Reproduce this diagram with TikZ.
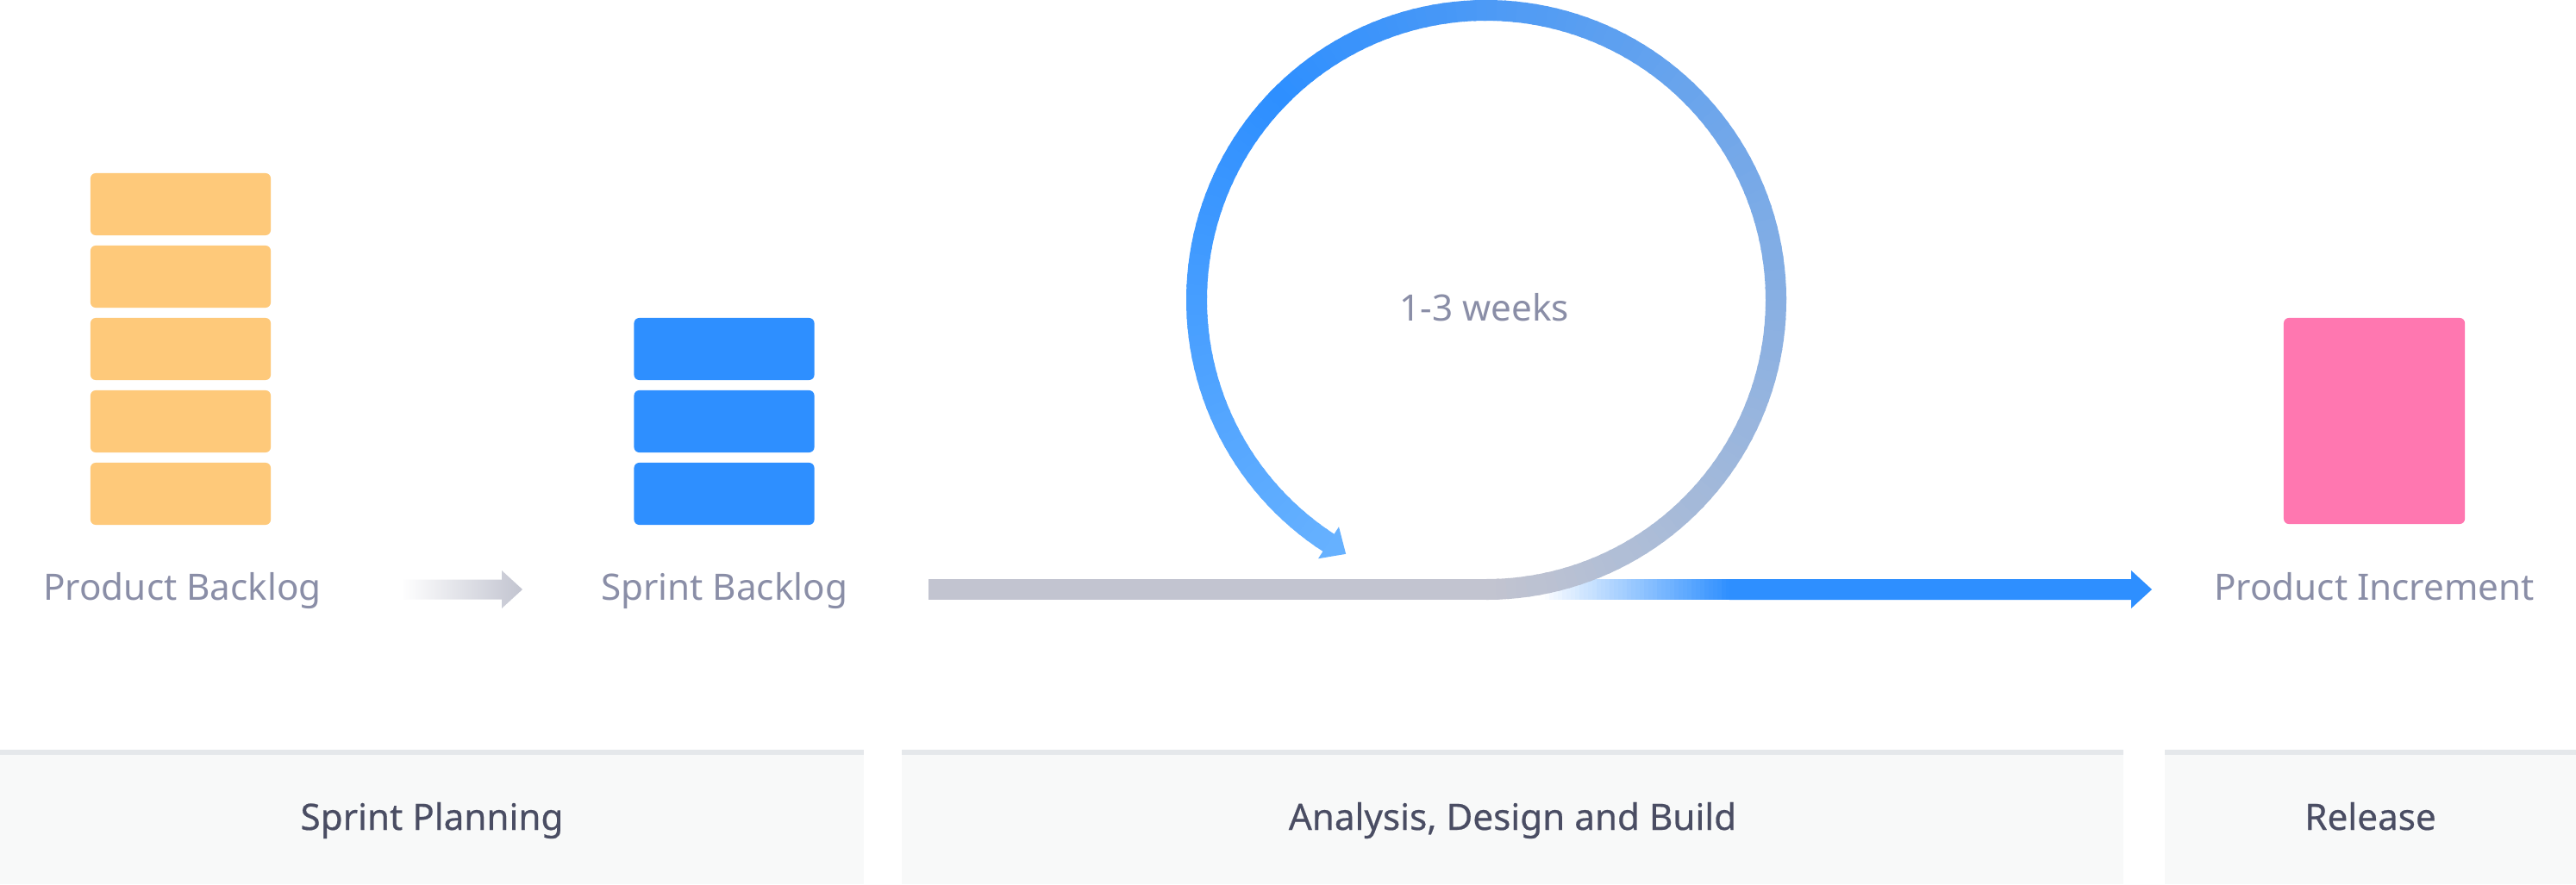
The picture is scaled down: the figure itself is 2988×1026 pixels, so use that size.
\documentclass[tikz,border=0pt]{standalone}
\usepackage{fontspec}
\setmainfont{Noto Sans}
\newfontfamily\phasefont[FakeBold=0.5]{Noto Sans}
\usetikzlibrary{calc}

\definecolor{backlogorange}{HTML}{FEC97A}
\definecolor{sprintblue}{HTML}{2E8FFF}
\definecolor{incpink}{HTML}{FF77B0}
\definecolor{flowgrey}{HTML}{C2C4D0}
\definecolor{loopblue}{HTML}{2E8FFF}
\definecolor{looplight}{HTML}{66B1FF}
\definecolor{labelgrey}{HTML}{8A8EA7}
\definecolor{phasetext}{HTML}{4A4D63}
\definecolor{panelfill}{HTML}{F8F9F9}
\definecolor{panelrule}{HTML}{E5E8EB}

\begin{document}
\begin{tikzpicture}[x=0.01cm, y=0.01cm,
  card/.style={rounded corners=0.06cm, inner sep=0pt, minimum width=2.09cm, minimum height=0.72cm},
  lbl/.style={anchor=base, inner sep=0pt, text=labelgrey, font=\fontsize{12}{14}\selectfont},
  phase/.style={anchor=base, inner sep=0pt, text=phasetext, font=\phasefont\fontsize{12}{14}\selectfont},
  flow/.style={line width=0.24cm},
]
\useasboundingbox (0,0) rectangle (2988,1026);
\fill[white] (0,0) rectangle (2988,1026);

% product backlog stack
\foreach \i/\y in {1/789,2/705,3/621,4/537,5/453}
  \node[card, fill=backlogorange] (pb\i) at (209.5,\y) {};

% sprint backlog stack
\foreach \i/\y in {1/621,2/537,3/453}
  \node[card, fill=sprintblue] (sb\i) at (840,\y) {};

% product increment
\node[card, fill=incpink, minimum width=2.10cm, minimum height=2.39cm] (inc) at (2754,537.5) {};

% labels
\node[lbl] (pbl) at (211.5,330) {Product Backlog};
\node[lbl] (sbl) at (840,330) {Sprint Backlog};
\node[lbl] (pil) at (2754,330) {Product Increment};
\node[lbl] (weeks) at (1722,654) {1-3 weeks};

% small arrow between the backlogs
\coordinate (sa1) at (465,342);
\coordinate (sa2) at (606,342);
\shade[left color=white, right color=flowgrey]
  ($(sa1)+(0,-11.5)$) -- ($(sa2)+(-24,-11.5)$) -- ($(sa2)+(-24,-22)$) -- (sa2)
  -- ($(sa2)+(-24,22)$) -- ($(sa2)+(-24,11.5)$) -- ($(sa1)+(0,11.5)$) -- cycle;

% outgoing blue arrow towards the increment: fade-in built from thin slices
\coordinate (out1) at (1787,342);
\coordinate (out2) at (2006,342);
\coordinate (outtip) at (2496,342);
\foreach \i in {0,...,43} {
  \pgfmathtruncatemacro\p{round((\i+0.5)/44*100)}
  \fill[sprintblue!\p!white]
    ($(out1)+(5*\i,-12)$) rectangle ($(out1)+(5*\i+5.6,12)$);
}
\fill[sprintblue]
  ($(out1)+(219,-12)$) -- ($(outtip)+(-24,-12)$) -- ($(outtip)+(-24,-22)$) -- (outtip)
  -- ($(outtip)+(-24,22)$) -- ($(outtip)+(-24,12)$) -- ($(out1)+(219,12)$) -- cycle;

% grey flow line into the loop
\coordinate (flowstart) at (1077,342);
\coordinate (loopc) at (1724,678);
\coordinate (loopbottom) at (1724,342);
\draw[flow, flowgrey] (flowstart) -- (loopbottom);

% the sprint loop, coloured along its length
\foreach \a in {-90,-88,...,134} {
  \pgfmathtruncatemacro\p{round((\a+90)/225*100)}
  \draw[flow, draw=loopblue!\p!flowgrey]
    ($(loopc)+(\a:336)$) arc[start angle=\a, end angle=\a+2.6, radius=336];
}
\foreach \a in {135,137,...,235} {
  \pgfmathtruncatemacro\p{round((\a-135)/102*100)}
  \draw[flow, draw=looplight!\p!loopblue]
    ($(loopc)+(\a:336)$) arc[start angle=\a, end angle=\a+2.6, radius=336];
}
\fill[looplight] ($(loopc)+(237:358)$) -- ($(loopc)+(237:314)$)
  -- ($(loopc)+(237:336)+(-33:24)$) -- cycle;

% phase panels
\fill[panelfill] (0,0) rectangle (1002,150);
\fill[panelrule] (0,150) rectangle (1002,156);
\fill[panelfill] (1046,0) rectangle (2463,150);
\fill[panelrule] (1046,150) rectangle (2463,156);
\fill[panelfill] (2511,0) rectangle (2988,150);
\fill[panelrule] (2511,150) rectangle (2988,156);
\node[phase] (ph1) at (501,63) {Sprint Planning};
\node[phase] (ph2) at (1754.5,63) {Analysis, Design and Build};
\node[phase] (ph3) at (2749.5,63) {Release};
\end{tikzpicture}
\end{document}
